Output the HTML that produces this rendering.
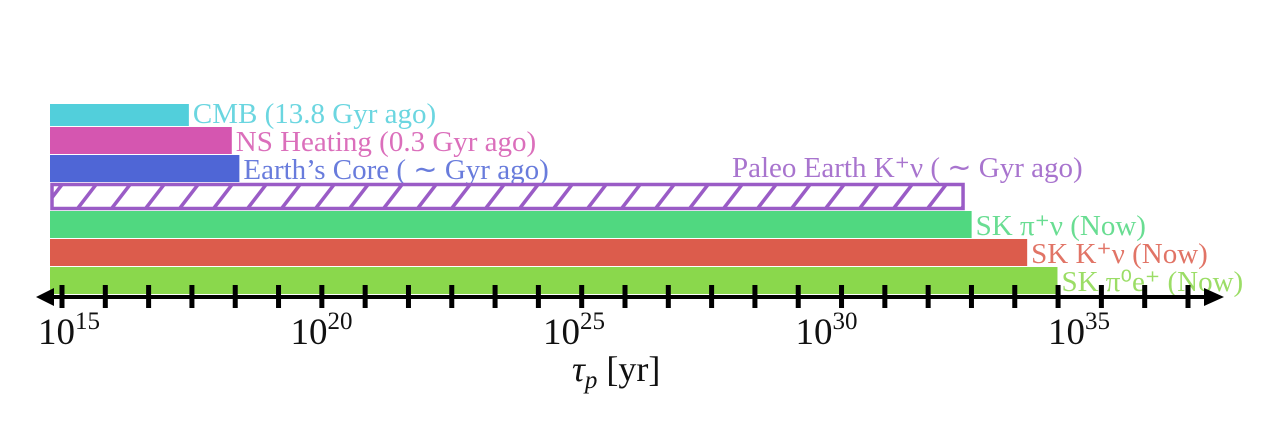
<!DOCTYPE html>
<html><head><meta charset="utf-8"><style>
body{margin:0;background:#fff;width:1280px;height:423px;overflow:hidden}
svg text{font-family:"Liberation Serif",serif}
</style></head><body>
<svg id="c" width="1280" height="423"></svg>
<script>
const labels=["CMB (13.8 Gyr ago)","NS Heating (0.3 Gyr ago)","Earth\u2019s Core ( \u223c Gyr ago)","Paleo Earth K\u207A\u03BD ( \u223c Gyr ago)","SK \u03C0\u207A\u03BD (Now)","SK K\u207A\u03BD (Now)","SK \u03C0\u2070e\u207A (Now)"];
const limits=[17.75,18.6,18.75,33.1,33.25,34.35,34.95];
const colors=["#52cfdb","#d556b0","#4f66d6","#9a5cc6","#50d880","#dc5c4c","#8ad84c"];
const tickLabels=[15,20,25,30,35];
const NS="http://www.w3.org/2000/svg";
const svg=document.getElementById('c');
function x(v){return 50+(v-15)*50.5;}
function mk(t,a,p){const e=document.createElementNS(NS,t);for(const k in a)e.setAttribute(k,a[k]);(p||svg).appendChild(e);return e;}
const defs=mk('defs',{});
const pat=mk('pattern',{id:'hatch',x:4,width:34,height:26,patternUnits:'userSpaceOnUse'},defs);
mk('line',{x1:6,y1:26,x2:26,y2:0,stroke:'#9a5cc6','stroke-width':3.5},pat);
const rowY=[104,127,155,183,211,239,267],rowH=[22,27,27,27,27,27,27];
limits.forEach((v,i)=>{
  let r;
  if(i===3){
    r=mk('rect',{x:x(15)+2,y:rowY[i]+1.5,width:x(v)-x(15)-3,height:rowH[i]-3,fill:'url(#hatch)',stroke:colors[i],'stroke-width':3.5});
  } else {
    r=mk('rect',{x:x(15),y:rowY[i],width:x(v)-x(15),height:rowH[i],fill:colors[i]});
  }
  
  
  let tx,ty;
  if(i===3){tx=732;ty=rowY[i]-6;}else{tx=x(v)+4;ty=rowY[i]+rowH[i]-3;}
  const t=mk('text',{x:tx,y:ty,'font-size':29,fill:colors[i],opacity:0.85});
  t.textContent=labels[i];
  
  
});
const ax=mk('line',{x1:45,y1:297,x2:1210,y2:297,stroke:'#000','stroke-width':4});


mk('polygon',{points:'36,297 54,288 54,306',fill:'#000'});
mk('polygon',{points:'1224,297 1204,288 1204,306',fill:'#000'});
for(let k=0;k<=26;k++){
  const tx=62+k*(1188-62)/26;
  const tk=mk('rect',{x:tx-2.5,y:285,width:5,height:23,fill:'#000'});
  
  
}
tickLabels.forEach(v=>{
  const t=mk('text',{x:x(v)-12,y:344,'font-size':37,fill:'#111'});
  t.innerHTML='10<tspan dy="-15" font-size="25">'+v+'</tspan>';
  
  
});
const xl=mk('text',{x:572,y:381,'font-size':36,fill:'#111'});
xl.innerHTML='<tspan font-style="italic">\u03C4</tspan><tspan font-style="italic" font-size="25" dy="7">p</tspan><tspan dy="-7"> [yr]</tspan>';


</script>
</body></html>
